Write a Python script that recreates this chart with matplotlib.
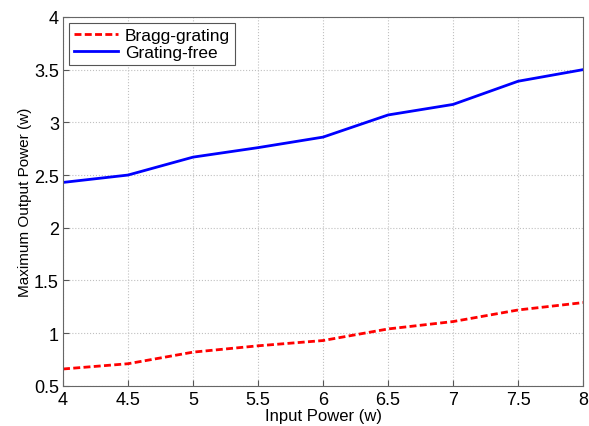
import matplotlib
matplotlib.use('Agg')
import matplotlib.pyplot as plt

plt.rcParams['font.family'] = ['Liberation Sans', 'DejaVu Sans']

input_power = [4, 4.5, 5, 5.5, 6, 6.5, 7, 7.5, 8]
bragg = [0.66, 0.71, 0.82, 0.88, 0.93, 1.04, 1.11, 1.22, 1.29]
free = [2.43, 2.50, 2.67, 2.76, 2.86, 3.07, 3.17, 3.39, 3.50]

fig = plt.figure(figsize=(5.89, 4.27), dpi=100)
ax = fig.add_axes([0.107, 0.094, 0.883, 0.864])
ax.plot(input_power, bragg, '--', color='#ff0000', lw=2, dashes=(2.5, 1.2), label='Bragg-grating')
ax.plot(input_power, free, '-', color='#0000ff', lw=2, label='Grating-free')
ax.set_xlim(4, 8)
ax.set_ylim(0.5, 4)
ax.set_xticks(input_power)
ax.set_xticklabels(['4', '4.5', '5', '5.5', '6', '6.5', '7', '7.5', '8'])
ax.set_yticks([0.5, 1, 1.5, 2, 2.5, 3, 3.5, 4])
ax.set_yticklabels(['0.5', '1', '1.5', '2', '2.5', '3', '3.5', '4'])
ax.grid(True, linestyle=':', color='#c0c0c0', lw=0.8)
ax.tick_params(direction='in', labelsize=13, length=4, colors='#555555', labelcolor='black')
ax.tick_params(axis='x', pad=3.5)
ax.tick_params(axis='y', pad=3)
for s in ax.spines.values():
    s.set_color('#666666')
ax.set_xlabel('Input Power (w)', fontsize=12, labelpad=0.5)
ax.set_ylabel('Maximum Output Power (w)', fontsize=11, labelpad=1)
leg = ax.legend(loc='upper left', fontsize=12.5, fancybox=False, framealpha=1,
                edgecolor='#555555', handlelength=2.5, borderaxespad=0.35,
                borderpad=0.3, labelspacing=0.1, handletextpad=0.4)
leg.get_frame().set_linewidth(0.8)
fig.savefig('out.png', dpi=100)
